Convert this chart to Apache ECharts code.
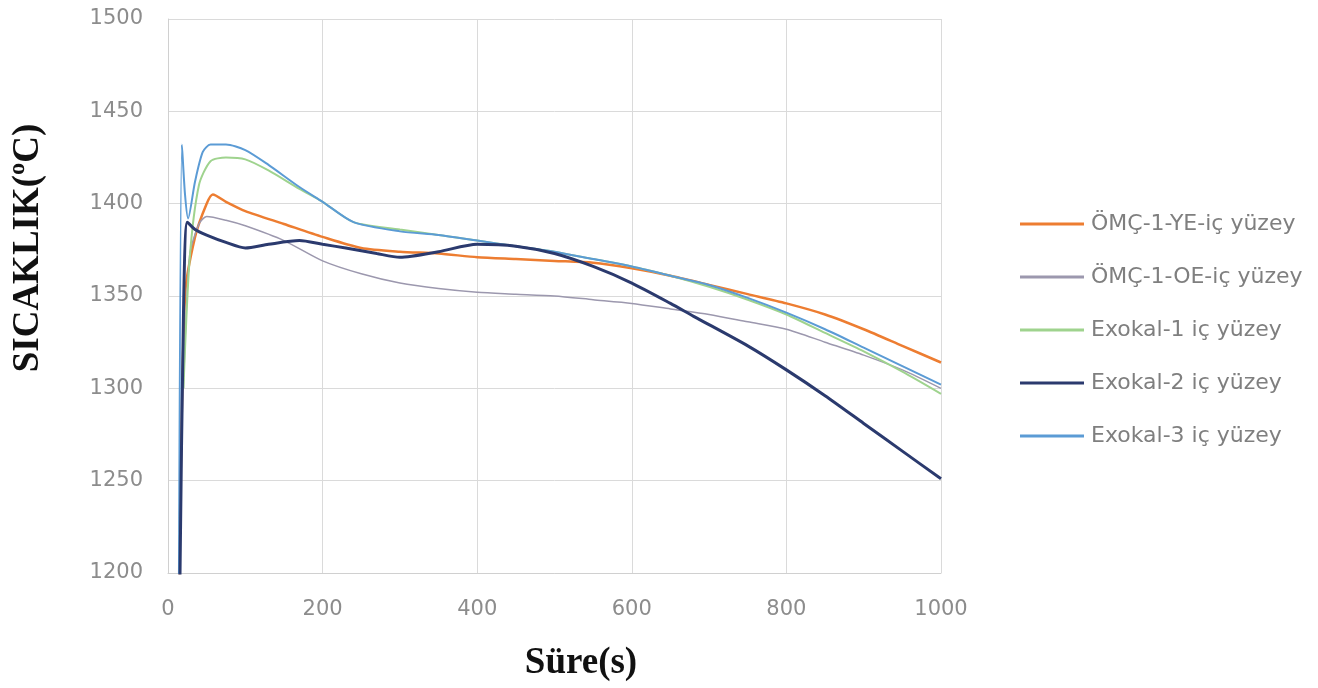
<!DOCTYPE html>
<html>
<head>
<meta charset="utf-8">
<script src="https://cdn.jsdelivr.net/npm/echarts@6/dist/echarts.min.js"></script>
<style>
  html, body { margin: 0; padding: 0; background: #fff; }
  #main { width: 1318px; height: 688px; }
</style>
</head>
<body>
<div id="main"></div>
<script>
// seri adlari
var seriesNames = ['ÖMÇ-1-YE-iç yüzey', 'ÖMÇ-1-OE-iç yüzey', 'Exokal-1 iç yüzey', 'Exokal-2 iç yüzey', 'Exokal-3 iç yüzey'];

// ÖMÇ-1-YE
var tYE = [14, 22, 35, 50, 58, 75, 100, 150, 200, 250, 300, 350, 400, 450, 500, 550, 600, 650, 700, 750, 800, 850, 900, 950, 1000];
var vYE = [1180, 1350, 1382, 1400, 1405, 1401, 1396, 1389, 1382, 1376, 1374, 1373, 1371, 1370, 1369, 1368, 1365, 1361, 1356, 1351, 1346, 1340, 1332, 1323, 1314];

// ÖMÇ-1-OE
var tOE = [20, 28, 40, 50, 75, 100, 150, 200, 250, 300, 350, 400, 450, 500, 550, 600, 650, 700, 750, 800, 850, 900, 950, 1000];
var vOE = [1300, 1372, 1389, 1393, 1391, 1388, 1380, 1369, 1362, 1357, 1354, 1352, 1351, 1350, 1348, 1346, 1343, 1340, 1336, 1332, 1325, 1318, 1310, 1300];

// Exokal-1
var tE1 = [20, 28, 40, 55, 75, 100, 130, 170, 200, 240, 300, 350, 400, 450, 500, 550, 600, 650, 700, 750, 800, 850, 900, 950, 1000];
var vE1 = [1300, 1370, 1410, 1423, 1425, 1424, 1418, 1408, 1401, 1390, 1386, 1383, 1380, 1377, 1374, 1370, 1366, 1361, 1355, 1348, 1340, 1330, 1320, 1309, 1297];

// Exokal-2
var tE2 = [15, 20, 25, 35, 50, 75, 100, 130, 170, 200, 230, 270, 300, 350, 400, 450, 500, 550, 600, 650, 680, 750, 800, 850, 900, 950, 1000];
var vE2 = [1180, 1340, 1390, 1386, 1383, 1379, 1376, 1378, 1380, 1378, 1376, 1373, 1371, 1374, 1378, 1377, 1373, 1366, 1357, 1346, 1339, 1323, 1310, 1296, 1281, 1266, 1251];

// Exokal-3
var tE3 = [14, 18, 22, 26, 35, 45, 55, 75, 100, 130, 170, 200, 240, 300, 350, 400, 450, 500, 550, 600, 650, 700, 750, 800, 850, 900, 950, 1000];
var vE3 = [1180, 1432, 1405, 1392, 1412, 1428, 1432, 1432, 1429, 1421, 1409, 1401, 1390, 1385, 1383, 1380, 1377, 1374, 1370, 1366, 1361, 1356, 1349, 1341, 1332, 1322, 1312, 1302];

var xTicks = [0, 200, 400, 600, 800, 1000];
var yTicks = [1200, 1250, 1300, 1350, 1400, 1450, 1500];

function zip(t, v) {
  return t.map(function (x, i) { return [x, v[i]]; });
}

var colors = ['#ed7d31', '#9c98ae', '#9fd38e', '#2b3a6e', '#5b9bd5'];
var widths = [2.5, 1.5, 2, 3, 2];
var allData = [zip(tYE, vYE), zip(tOE, vOE), zip(tE1, vE1), zip(tE2, vE2), zip(tE3, vE3)];

var plain = function (v) { return String(v); };

var myChart = echarts.init(document.getElementById('main'));
myChart.setOption({
  animation: false,
  color: colors,
  grid: { left: 168, right: 377, top: 19, bottom: 115 },
  legend: {
    orient: 'vertical',
    left: 1015,
    top: 207,
    itemWidth: 64,
    itemHeight: 3,
    itemGap: 29,
    icon: 'rect',
    data: seriesNames.map(function (n, i) {
      return { name: n, itemStyle: { color: colors[i] } };
    }),
    textStyle: { color: '#7f7f7f', fontSize: 22, lineHeight: 24, fontFamily: 'DejaVu Sans', padding: [0, 0, 0, 2] }
  },
  xAxis: {
    type: 'value',
    min: xTicks[0],
    max: xTicks[xTicks.length - 1],
    interval: 200,
    axisLine: { show: true, lineStyle: { color: '#d0d0d0' } },
    axisTick: { show: false },
    splitLine: { lineStyle: { color: '#dadada' } },
    axisLabel: { color: '#8c8c8c', fontSize: 21, fontFamily: 'DejaVu Sans', margin: 26, formatter: plain }
  },
  yAxis: {
    type: 'value',
    min: yTicks[0],
    max: yTicks[yTicks.length - 1],
    interval: 50,
    axisLine: { show: true, lineStyle: { color: '#d0d0d0' } },
    axisTick: { show: false },
    splitLine: { lineStyle: { color: '#dadada' } },
    axisLabel: { color: '#8c8c8c', fontSize: 21, fontFamily: 'DejaVu Sans', margin: 25, formatter: plain }
  },
  graphic: [{
    type: 'text',
    x: 28,
    y: 248,
    rotation: Math.PI / 2,
    style: {
      text: 'SICAKLIK(ºC)',
      fill: '#111',
      font: 'bold 37px "Liberation Serif"',
      textAlign: 'center',
      textVerticalAlign: 'middle'
    }
  }, {
    type: 'text',
    x: 581,
    y: 663,
    style: {
      text: 'Süre(s)',
      fill: '#111',
      font: 'bold 37px "Liberation Serif"',
      textAlign: 'center',
      textVerticalAlign: 'middle'
    }
  }],
  series: seriesNames.map(function (name, i) {
    return {
      name: name,
      type: 'line',
      data: allData[i],
      showSymbol: false,
      smooth: 0.25,
      clip: true,
      itemStyle: { color: colors[i] },
      lineStyle: { width: widths[i], color: colors[i] },
      z: i === 3 ? 3 : 2
    };
  })
});
</script>
</body>
</html>
